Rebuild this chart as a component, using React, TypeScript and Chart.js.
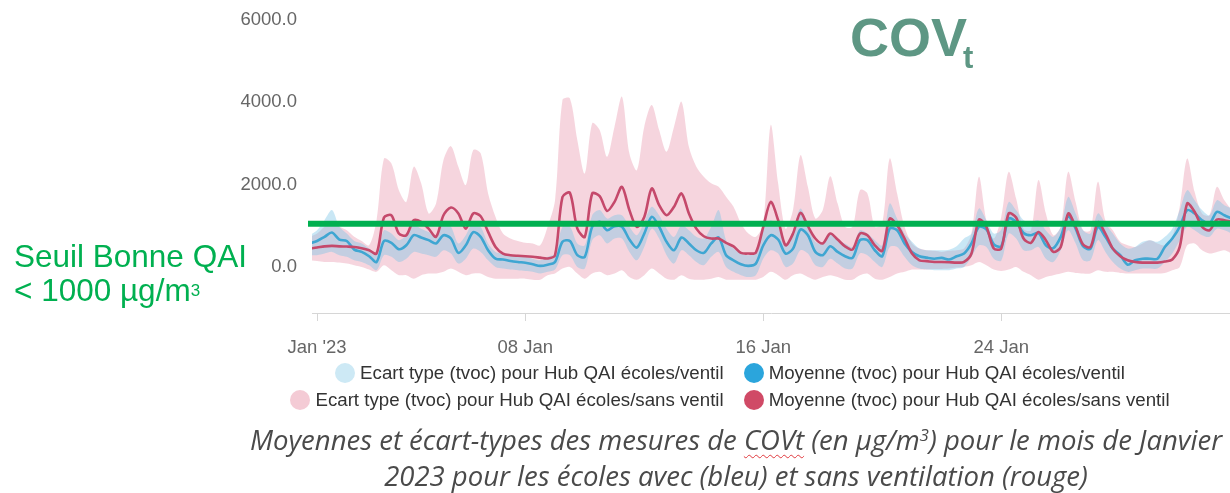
import React, { useEffect, useRef } from 'react';
import { Chart, registerables } from 'chart.js';

Chart.register(...registerables);

// Time grid: days since 1 Jan 2023 00:00, one point every 6 hours
const START_DAY = -0.25;
const DAY_STEP = 0.25;

// Moyenne (tvoc) – écoles/ventil (blue)
const blueMean = [
  570, 630, 730, 835, 665, 630, 420, 365, 260, 120, 630, 585, 430, 525, 770, 715, 650, 570, 770, 690, 340, 525, 845, 730, 405, 200, 180, 145, 120, 100, 65, 25,
  55, 120, 610, 630, 285, 245, 975, 1095, 890, 990, 975, 665, 470, 810, 1215, 975, 610, 405, 715, 570, 405, 340, 570, 715, 285, 160, 65, 25, 80, 525, 770,
  665, 325, 445, 910, 770, 365, 285, 500, 365, 260, 220, 650, 650, 405, 260, 930, 890, 570, 365, 260, 225, 200, 220, 180, 260, 325, 570, 975, 910, 550, 500,
  1175, 1095, 825, 770, 825, 525, 455, 730, 1230, 930, 500, 445, 975, 730, 445, 285, 55, 160, 200, 200, 200, 485, 690, 975, 1380, 1300, 1135, 1055, 1340, 1255, 1175,
];

// Moyenne (tvoc) – écoles/sans ventil (red)
const redMean = [
  445, 470, 500, 510, 500, 495, 485, 455, 405, 325, 1200, 1255, 810, 770, 1135, 1095, 930, 730, 1255, 1445, 1300, 930, 1300, 1230, 850, 485, 325, 285, 270, 260, 245, 225,
  205, 285, 1700, 1800, 930, 730, 1785, 1720, 1360, 1580, 1945, 1380, 975, 1215, 1905, 1500, 1255, 1460, 1785, 1300, 930, 745, 690, 690, 585, 500, 340, 325, 350, 975, 1580,
  1135, 525, 810, 1315, 990, 690, 570, 810, 665, 500, 420, 810, 770, 525, 390, 1175, 1015, 690, 325, 160, 140, 120, 120, 115, 105, 120, 325, 1150, 975, 445, 450,
  1300, 1200, 690, 585, 850, 650, 365, 485, 1300, 975, 545, 485, 1085, 810, 445, 260, 160, 120, 105, 105, 105, 130, 180, 485, 1540, 1340, 975, 890, 1150, 1135, 1095,
];

// Ecart type – écoles/ventil : upper / lower edges
const blueUpper = [
  770, 890, 1135, 1380, 975, 810, 630, 570, 445, 325, 890, 810, 650, 770, 1015, 930, 850, 770, 1055, 975, 570, 770, 1095, 975, 570, 365, 325, 285, 260, 245, 200, 160,
  245, 325, 975, 975, 570, 525, 1255, 1380, 1175, 1255, 1255, 975, 770, 1095, 1460, 1255, 930, 730, 1015, 890, 730, 690, 975, 1380, 650, 445, 325, 285, 365, 890, 1135,
  975, 570, 890, 1420, 1015, 610, 570, 810, 650, 570, 485, 890, 810, 650, 525, 1540, 1175, 810, 610, 445, 405, 405, 405, 420, 500, 690, 810, 1420, 1135, 810, 900,
  1580, 1380, 1135, 1095, 1135, 890, 730, 975, 1700, 1300, 890, 810, 1300, 1055, 810, 570, 445, 485, 610, 650, 610, 730, 930, 1380, 1865, 1620, 1380, 1255, 1620, 1500, 1420,
];
const blueLower = [
  285, 285, 325, 365, 285, 245, 160, 120, 40, -80, 285, 245, 120, 200, 365, 325, 285, 245, 405, 325, 80, 200, 445, 365, 160, 0, -40, -65, -80, -100, -120, -160,
  -120, -65, 285, 285, 0, -40, 650, 770, 570, 690, 690, 365, 160, 485, 930, 690, 285, 80, 405, 285, 120, 40, 245, 365, 0, -120, -200, -245, -200, 200, 405,
  325, 0, 80, 405, 325, 40, 0, 200, 80, -40, -40, 325, 285, 120, 0, 485, 485, 245, 40, -40, -65, -80, -80, -80, -40, 0, 245, 525, 485, 200, 150,
  810, 690, 405, 405, 485, 200, 120, 405, 890, 570, 160, 160, 650, 365, 120, -40, -120, -80, -40, -40, -40, 120, 325, 650, 975, 890, 770, 730, 930, 890, 810,
];

// Ecart type – écoles/sans ventil : upper / lower edges
const pinkUpper = [
  730, 810, 975, 1095, 975, 890, 730, 630, 525, 1135, 2635, 2515, 1865, 1580, 2435, 2030, 1300, 1540, 2595, 2935, 2435, 1990, 2840, 2760, 1785, 1215, 810, 690, 630, 585, 570, 525,
  975, 1620, 4055, 4095, 3080, 2270, 3490, 3325, 2675, 3405, 4135, 2755, 2350, 3405, 3935, 3325, 2800, 3405, 4015, 2920, 2435, 2190, 2030, 1945, 1705, 1460, 1055, 810, 730, 1055, 3450,
  2030, 930, 1380, 2715, 1945, 1175, 1380, 2205, 1540, 975, 975, 1865, 1785, 975, 1055, 2635, 1785, 975, 570, 445, 405, 390, 365, 390, 405, 445, 810, 2190, 1135, 690, 1215,
  2310, 1660, 930, 890, 2110, 1300, 770, 975, 2310, 1580, 890, 890, 2070, 1135, 890, 610, 525, 485, 570, 650, 570, 525, 730, 1460, 2635, 1825, 1300, 1255, 1945, 1620, 1380,
];
const pinkLower = [
  160, 145, 120, 120, 105, 80, 40, 0, -65, -120, 40, -80, -200, -200, -285, -200, -160, -160, -120, -40, -120, -200, -160, -160, -245, -285, -285, -285, -285, -285, -310, -310,
  -200, -160, -40, 0, -160, -285, -160, -120, -200, -160, -80, -245, -310, -200, -40, -160, -285, -310, -200, -285, -310, -310, -285, -245, -310, -310, -310, -310, -310, -245, -120,
  -200, -310, -200, -160, -245, -310, -245, -200, -245, -310, -310, -200, -160, -285, -310, -245, -160, -120, -65, -65, -65, -50, -50, -40, -15, 0, 40, 120, 40, -65, -100,
  -65, 0, -120, -200, -310, -245, -200, -160, -120, -145, -160, -160, -80, -120, -120, -145, -160, -160, -160, -160, -160, -145, -80, 0, 525, 570, 405, 325, 365, 405, 325,
];

const threshold = 1050;
const tickDays = [0, 7, 15, 23];
const tickLabels = ["Jan '23", '08 Jan', '16 Jan', '24 Jan'];
const yTickValues = [0, 2000, 4000, 6000];

const legendLabels = [
  ['Ecart type (tvoc) pour Hub QAI écoles/ventil', 'Moyenne (tvoc) pour Hub QAI écoles/ventil'],
  ['Ecart type (tvoc) pour Hub QAI écoles/sans ventil', 'Moyenne (tvoc) pour Hub QAI écoles/sans ventil'],
];

const FONT = '"Liberation Sans", Arial, sans-serif';
const BLUE = '#3fa6d2';
const RED = '#c5496b';
const BLUE_FILL = 'rgba(120,195,230,0.40)';
const PINK_FILL = 'rgba(235,160,180,0.44)';
const legendColors = [
  ['#cde9f5', '#2ba5dc'],
  ['#f4cbd5', '#d04a66'],
];

const days = blueMean.map((_, i) => START_DAY + i * DAY_STEP);
const pts = (arr: number[]) => arr.map((y, i) => ({ x: days[i], y }));

export default function App() {
  const ref = useRef<HTMLCanvasElement | null>(null);

  useEffect(() => {
    if (!ref.current) return;
    const band = (data: number[], fill: any, color: string, order: number) => ({
      data: pts(data),
      borderWidth: 0,
      borderColor: 'rgba(0,0,0,0)',
      backgroundColor: color,
      pointRadius: 0,
      fill,
      tension: 0.3,
      order,
    });
    const chart = new Chart(ref.current, {
      type: 'line',
      data: {
        datasets: [
          band(pinkUpper, '+1', PINK_FILL, 4),
          band(pinkLower, false, PINK_FILL, 4),
          band(blueUpper, '+1', BLUE_FILL, 3),
          band(blueLower, false, BLUE_FILL, 3),
          {
            data: pts(blueMean),
            borderColor: BLUE,
            borderWidth: 2.6,
            pointRadius: 0,
            fill: false,
            tension: 0.3,
            order: 2,
          },
          {
            data: pts(redMean),
            borderColor: RED,
            borderWidth: 2.6,
            pointRadius: 0,
            fill: false,
            tension: 0.3,
            order: 1,
          },
          {
            data: [
              { x: -0.4, y: threshold },
              { x: 31, y: threshold },
            ],
            borderColor: '#00b050',
            borderWidth: 6,
            pointRadius: 0,
            fill: false,
            tension: 0,
            order: 0,
            clip: { left: 4, right: 0, top: 0, bottom: 0 },
          } as any,
        ],
      },
      options: {
        responsive: false,
        animation: false,
        layout: { padding: { top: 20, right: 0, left: 0, bottom: 0 } },
        plugins: { legend: { display: false }, tooltip: { enabled: false } },
        scales: {
          x: {
            type: 'linear',
            min: -0.17,
            max: 30.69,
            afterBuildTicks: (s: any) => {
              s.ticks = tickDays.map((v) => ({ value: v }));
            },
            afterFit: (s: any) => {
              s.height = 47;
            },
            ticks: {
              autoSkip: false,
              maxRotation: 0,
              padding: 16,
              color: '#666',
              font: { family: FONT, size: 18.5 },
              callback: (v: any) => {
                const i = tickDays.indexOf(Number(v));
                return i >= 0 ? tickLabels[i] : '';
              },
            },
            grid: { display: true, drawOnChartArea: false, drawTicks: true, tickLength: 8, color: '#d6d6d6' },
            border: { display: true, color: '#d6d6d6', width: 1 },
          },
          y: {
            min: -1120,
            max: 6000,
            afterBuildTicks: (s: any) => {
              s.ticks = yTickValues.map((v) => ({ value: v }));
            },
            afterFit: (s: any) => {
              s.width = 312;
            },
            ticks: {
              padding: 3,
              color: '#666',
              font: { family: FONT, size: 18.5 },
              callback: (v: any) => Number(v).toFixed(1),
            },
            grid: { display: false, drawTicks: true, tickLength: 12 },
            border: { display: false },
          },
        },
      } as any,
    });
    return () => chart.destroy();
  }, []);

  return (
    <div
      style={{
        position: 'fixed',
        left: 0,
        top: 0,
        width: 1230,
        height: 493,
        background: '#fff',
        overflow: 'hidden',
        fontFamily: FONT,
      }}
    >
      <canvas ref={ref} width={1230} height={360} style={{ position: 'absolute', left: 0, top: 0 }} />

      {/* Title COVt */}
      <div
        style={{
          position: 'absolute',
          left: 850,
          top: 10,
          fontSize: 54,
          lineHeight: '54px',
          fontWeight: 'bold',
          color: '#5e9784',
          whiteSpace: 'nowrap',
        }}
      >
        COV
      </div>
      <div
        style={{
          position: 'absolute',
          left: 963,
          top: 42,
          fontSize: 31,
          lineHeight: '31px',
          fontWeight: 'bold',
          color: '#5e9784',
        }}
      >
        t
      </div>

      {/* Threshold annotation */}
      <div
        style={{
          position: 'absolute',
          left: 14,
          top: 239,
          fontSize: 31.5,
          lineHeight: '34px',
          color: '#00b050',
          whiteSpace: 'nowrap',
        }}
      >
        <div>Seuil Bonne QAI</div>
        <div>
          {'< 1000 µg/m'}
          <span style={{ fontSize: 17, lineHeight: 1, position: 'relative', top: -5 }}>3</span>
        </div>
      </div>

      {/* Legend */}
      <div style={{ position: 'absolute', left: 230, top: 359, width: 1000 }}>
        {legendLabels.map((row, r) => (
          <div
            key={r}
            style={{ display: 'flex', justifyContent: 'center', gap: 20, height: 27, alignItems: 'center' }}
          >
            {row.map((label, c) => (
              <div key={c} style={{ display: 'flex', alignItems: 'center', whiteSpace: 'nowrap' }}>
                <div
                  style={{
                    width: 20,
                    height: 20,
                    borderRadius: '50%',
                    background: legendColors[r][c],
                    marginRight: 5,
                  }}
                />
                <span style={{ fontSize: 18.7, color: '#333' }}>{label}</span>
              </div>
            ))}
          </div>
        ))}
      </div>

      {/* Caption */}
      <div
        style={{
          position: 'absolute',
          left: 236,
          top: 422,
          width: 1000,
          textAlign: 'center',
          fontFamily: '"Open Sans", sans-serif',
          fontStyle: 'italic',
          fontSize: 27.5,
          lineHeight: '36px',
          color: '#4a4a4a',
          whiteSpace: 'nowrap',
        }}
      >
        <div style={{ height: 36 }}>
          {'Moyennes et écart-types des mesures de '}
          <span
            style={{
              textDecorationLine: 'underline',
              textDecorationStyle: 'wavy',
              textDecorationColor: '#e0393e',
              textDecorationThickness: '1px',
              textUnderlineOffset: '4px',
            }}
          >
            COVt
          </span>
          {' (en µg/m'}
          <span style={{ fontSize: 17, lineHeight: 1, position: 'relative', top: -9 }}>3</span>
          {') pour le mois de Janvier'}
        </div>
        <div style={{ height: 36 }}>2023 pour les écoles avec (bleu) et sans ventilation (rouge)</div>
      </div>
    </div>
  );
}
